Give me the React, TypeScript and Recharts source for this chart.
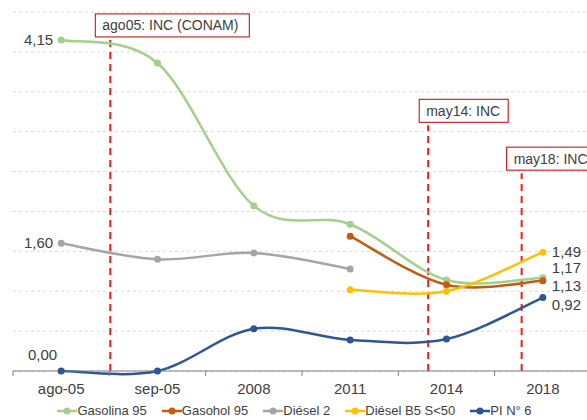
import React from 'react';
import {
  ComposedChart,
  Line,
  XAxis,
  YAxis,
  CartesianGrid,
  ReferenceLine,
  LabelList,
  Legend
} from 'recharts';

const categories = ['ago-05', 'sep-05', '2008', '2011', '2014', '2018'];
const gasolina95 = [4.15, 3.86, 2.07, 1.84, 1.14, 1.17];
const gasohol95 = [null, null, null, 1.69, 1.08, 1.13];
const diesel2 = [1.6, 1.4, 1.48, 1.28, null, null];
const dieselB5 = [null, null, null, 1.02, 1.0, 1.49];
const pi6 = [0, 0, 0.53, 0.39, 0.4, 0.92];
const yTicks = [0, 0.5, 1, 1.5, 2, 2.5, 3, 3.5, 4, 4.5];

// events: x in category units, top in chart units
const events = [
  { x: 0.51, top: 4.15, text: 'ago05: INC (CONAM)' },
  { x: 3.81, top: 3.08, text: 'may14: INC' },
  { x: 4.78, top: 2.48, text: 'may18: INC' }
];

const series = [
  { key: 'g95', name: 'Gasolina 95', values: gasolina95, color: '#a3d08a', labels: { 0: [-8, 5, 'end'], 5: [9, -5, 'start'] } },
  { key: 'gh95', name: 'Gasohol 95', values: gasohol95, color: '#c55a11', labels: { 5: [9, 10, 'start'] } },
  { key: 'd2', name: 'Diésel 2', values: diesel2, color: '#a5a5a5', labels: { 0: [-8, 5, 'end'] } },
  { key: 'b5', name: 'Diésel B5 S<50', values: dieselB5, color: '#ffc000', labels: { 5: [9, 5, 'start'] } },
  { key: 'pi6', name: 'PI N° 6', values: pi6, color: '#2f5597', labels: { 0: [-4, -11, 'end'], 5: [9, 12, 'start'] } }
];

const data = categories.map((c, i) => {
  const row: any = { idx: i, name: c };
  series.forEach((s) => { row[s.key] = s.values[i]; });
  return row;
});

const FONT = '"Liberation Sans", Arial, sans-serif';
const TEXT = '#404040';
const W = 600;
const M = { top: 12, right: 9, left: 13, bottom: 0 };
const HALF = (W - M.left - M.right) / 12;

const boxStyle: any = {
  'ago05: INC (CONAM)': { w: 154, dx: -15 },
  'may14: INC': { w: 89, dx: -9 },
  'may18: INC': { w: 92, dx: -15 }
};

// Excel-like smoothed line (Catmull-Rom)
const excelCurve: any = (context: any) => {
  let pts: number[][] = [];
  return {
    areaStart() {},
    areaEnd() {},
    lineStart() { pts = []; },
    point(x: number, y: number) { pts.push([+x, +y]); },
    lineEnd() {
      const n = pts.length;
      if (!n) return;
      context.moveTo(pts[0][0], pts[0][1]);
      for (let i = 0; i < n - 1; i++) {
        const p0 = pts[Math.max(i - 1, 0)];
        const p1 = pts[i];
        const p2 = pts[i + 1];
        const p3 = pts[Math.min(i + 2, n - 1)];
        context.bezierCurveTo(
          p1[0] + (p2[0] - p0[0]) / 6, p1[1] + (p2[1] - p0[1]) / 6,
          p2[0] - (p3[0] - p1[0]) / 6, p2[1] - (p3[1] - p1[1]) / 6,
          p2[0], p2[1]
        );
      }
    }
  };
};

const AxisTick = ({ x, y, payload }: any) => (
  <g>
    <line x1={x - HALF} x2={x - HALF} y1={y} y2={y + 5} stroke="#7f7f7f" strokeWidth={1} />
    <text x={x} y={y + 23} textAnchor="middle" fill={TEXT} fontSize={15} fontFamily={FONT}>
      {categories[payload.value]}
    </text>
  </g>
);

const EventBox = ({ viewBox, text }: any) => {
  if (!viewBox) return null;
  const st = boxStyle[text];
  const bx = viewBox.x + st.dx;
  const by = viewBox.y - 3 - 23;
  return (
    <g>
      <rect x={bx} y={by} width={st.w} height={23} fill="#fff" stroke="#c00000" strokeWidth={1} />
      <text x={bx + 7} y={by + 16.5} fill={TEXT} fontSize={14} fontFamily={FONT}>{text}</text>
    </g>
  );
};

const fmt = (v: number) => v.toFixed(2).replace('.', ',');

const LegendRow = () => (
  <div style={{ display: 'flex', justifyContent: 'center', height: 19, alignItems: 'center', fontFamily: FONT, fontSize: 13, color: TEXT }}>
    {series.map((s) => (
      <div key={s.key} style={{ display: 'flex', alignItems: 'center', marginRight: 15 }}>
        <svg width={20} height={10}>
          <line x1={0} x2={20} y1={5} y2={5} stroke={s.color} strokeWidth={2.5} />
          <circle cx={10} cy={5} r={3.5} fill={s.color} />
        </svg>
        <span>{s.name}</span>
      </div>
    ))}
  </div>
);

export default function App() {
  return (
    <div style={{ position: 'absolute', left: 0, top: 0, width: 587, height: 420, overflow: 'hidden', background: '#fff' }}>
      <ComposedChart width={W} height={420} data={data} margin={M}>
        <CartesianGrid vertical={false} stroke="#d9d9d9" strokeDasharray="3 3" />
        <XAxis
          dataKey="idx"
          type="number"
          domain={[-0.5, 5.5]}
          ticks={[0, 1, 2, 3, 4, 5]}
          interval={0}
          height={30}
          tickLine={false}
          tickSize={0}
          tickMargin={0}
          stroke="#7f7f7f"
          tick={<AxisTick />}
        />
        <YAxis hide domain={[0, 4.5]} ticks={yTicks} />
        <Legend verticalAlign="bottom" height={19} content={<LegendRow />} />
        {events.map((e) => (
          <ReferenceLine
            key={e.text}
            segment={[{ x: e.x, y: 0 }, { x: e.x, y: e.top }]}
            stroke="#ee1c1c"
            strokeWidth={2}
            strokeDasharray="7 5"
            ifOverflow="visible"
            label={(p: any) => <EventBox viewBox={p.viewBox} text={e.text} />}
          />
        ))}
        {series.map((s) => (
          <Line
            key={s.key}
            dataKey={s.key}
            name={s.name}
            type={excelCurve}
            stroke={s.color}
            strokeWidth={2.5}
            dot={{ r: 3.5, fill: s.color, stroke: s.color, strokeWidth: 0 }}
            activeDot={false}
            isAnimationActive={false}
          >
            <LabelList
              dataKey={s.key}
              content={(p: any) => {
                const cfg = (s.labels as any)[p.index];
                if (!cfg || p.value == null) return null;
                return (
                  <text x={p.x + cfg[0]} y={p.y + cfg[1]} textAnchor={cfg[2]} fill={TEXT} fontSize={15} fontFamily={FONT}>
                    {fmt(p.value)}
                  </text>
                );
              }}
            />
          </Line>
        ))}
      </ComposedChart>
    </div>
  );
}
